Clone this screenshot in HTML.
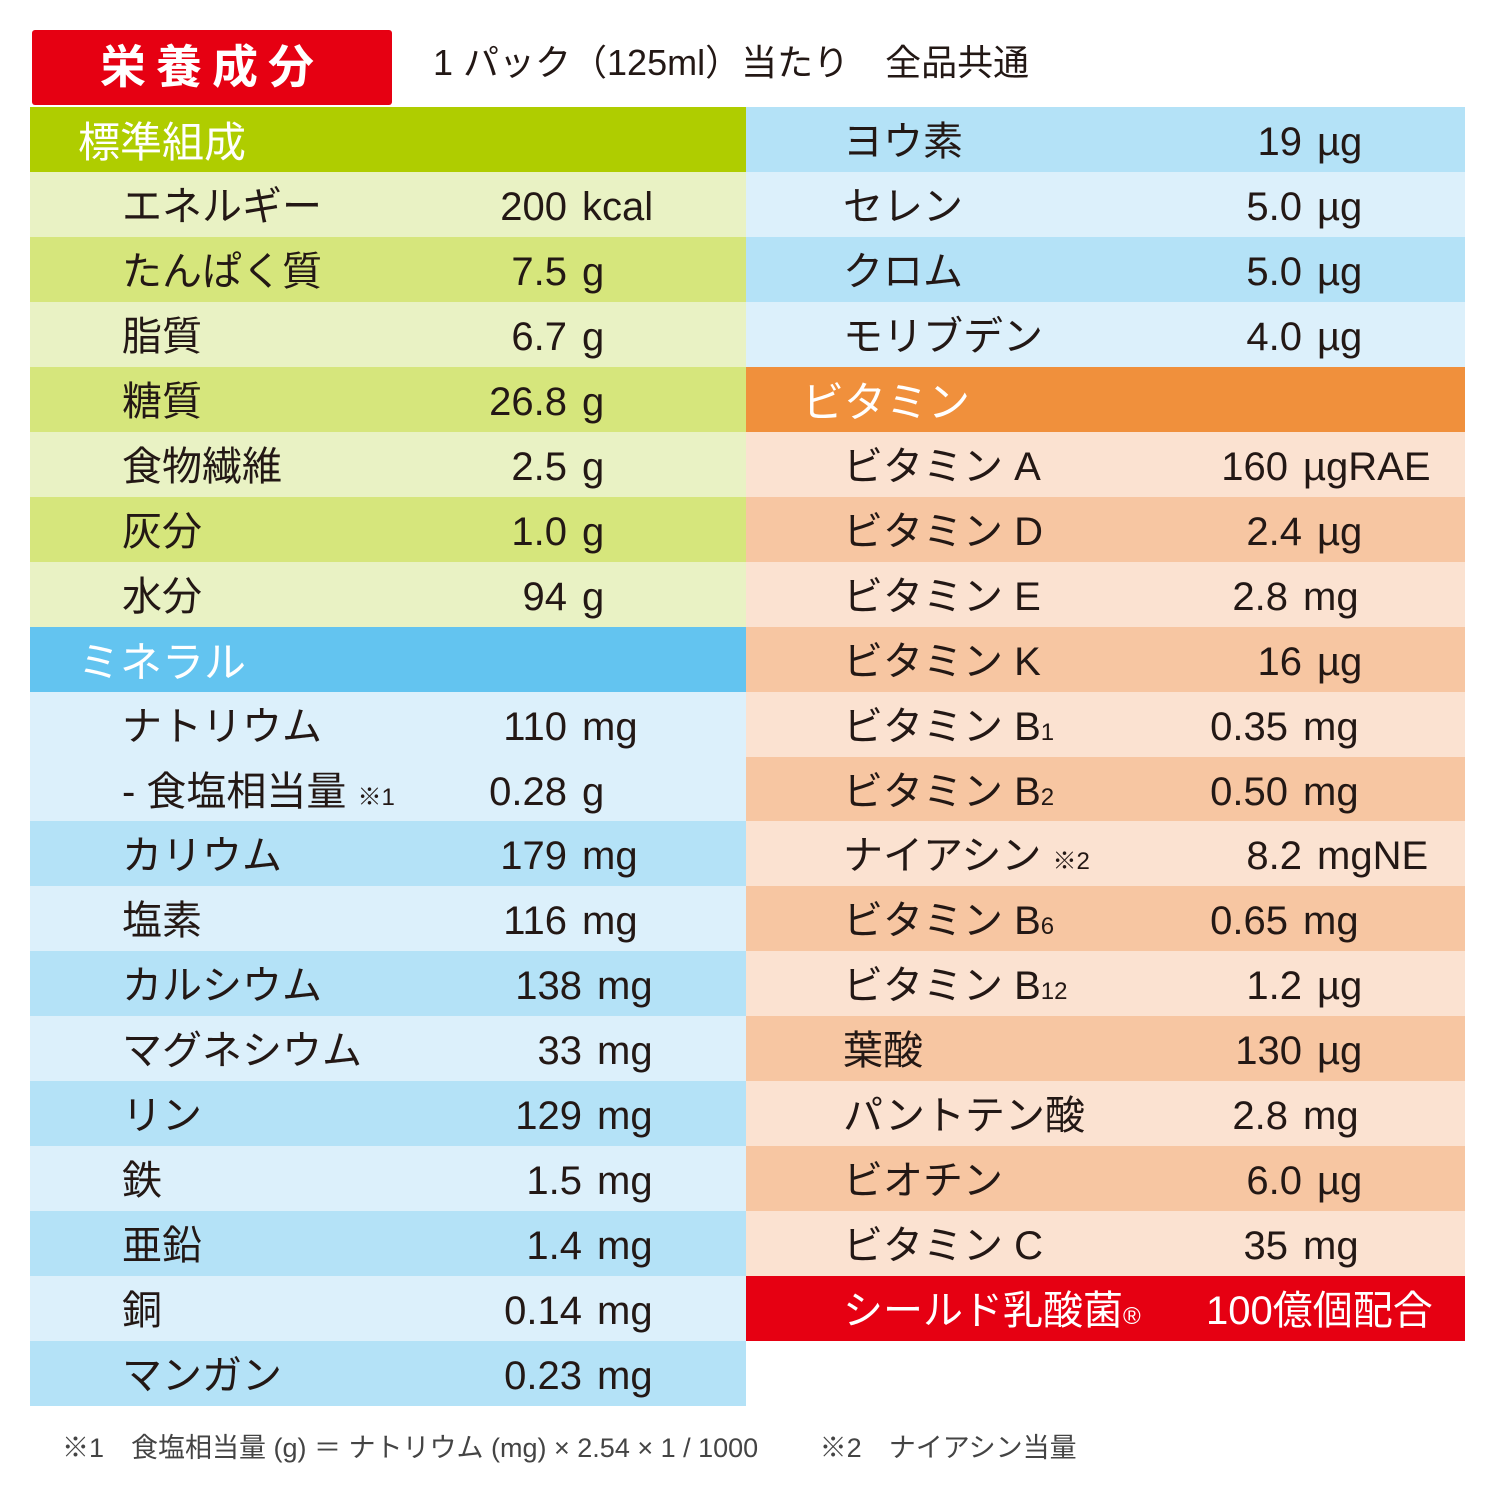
<!DOCTYPE html>
<html><head><meta charset="utf-8">
<style>
body{margin:0;background:#fff;width:1500px;height:1500px;position:relative;overflow:hidden;font-family:"Liberation Sans","Noto Sans CJK JP",sans-serif;color:#231815}
.a{position:absolute;white-space:nowrap}
.row{position:absolute;height:65px}
.t{position:absolute;font-size:40px;line-height:65px;top:3px;white-space:nowrap}
.h{color:#fff;font-size:42px}
small{font-size:24px}
</style></head><body>
<div class="a" style="left:32px;top:30px;width:360px;height:75px;background:#e60012;border-radius:3px;color:#fff;font-weight:bold;font-size:46px;line-height:75px;text-align:center;letter-spacing:10px">栄養成分</div>
<div class="a" style="left:433px;top:38px;font-size:36px;line-height:50px">1 パック（125ml）当たり　全品共通</div>
<div class="a" style="left:62px;top:1428px;font-size:27px;line-height:40px;color:#444">※1　食塩相当量 (g) ＝ ナトリウム (mg) × 2.54 × 1 / 1000　　 ※2　ナイアシン当量</div>
<div id="tbl"></div>
<script>
const leftNames=["標準組成","エネルギー","たんぱく質","脂質","糖質","食物繊維","灰分","水分","ミネラル","ナトリウム","- 食塩相当量 <small>※1</small>","カリウム","塩素","カルシウム","マグネシウム","リン","鉄","亜鉛","銅","マンガン"];
const leftNums=["","200","7.5","6.7","26.8","2.5","1.0","94","","110","0.28","179","116","138","33","129","1.5","1.4","0.14","0.23"];
const leftUnits=["","kcal","g","g","g","g","g","g","","mg","g","mg","mg","mg","mg","mg","mg","mg","mg","mg"];
const leftBg=["#afcd00","#e9f2c4","#d6e67c","#e9f2c4","#d6e67c","#e9f2c4","#d6e67c","#e9f2c4","#63c4f0","#dcf0fb","#dcf0fb","#b4e2f7","#dcf0fb","#b4e2f7","#dcf0fb","#b4e2f7","#dcf0fb","#b4e2f7","#dcf0fb","#b4e2f7"];
const rightNames=["ヨウ素","セレン","クロム","モリブデン","ビタミン","ビタミン A","ビタミン D","ビタミン E","ビタミン K","ビタミン B<small>1</small>","ビタミン B<small>2</small>","ナイアシン <small>※2</small>","ビタミン B<small>6</small>","ビタミン B<small>12</small>","葉酸","パントテン酸","ビオチン","ビタミン C","シールド乳酸菌<small>®</small>"];
const rightNums=["19","5.0","5.0","4.0","","160","2.4","2.8","16","0.35","0.50","8.2","0.65","1.2","130","2.8","6.0","35","100億個配合"];
const rightUnits=["µg","µg","µg","µg","","µgRAE","µg","mg","µg","mg","mg","mgNE","mg","µg","µg","mg","µg","mg",""];
const rightBg=["#b4e2f7","#dcf0fb","#b4e2f7","#dcf0fb","#f0903c","#fbe2d1","#f7c6a2","#fbe2d1","#f7c6a2","#fbe2d1","#f7c6a2","#fbe2d1","#f7c6a2","#fbe2d1","#f7c6a2","#fbe2d1","#f7c6a2","#fbe2d1","#e60012"];
const tbl=document.getElementById('tbl');
function rowY(i){return 107+i*64.95;}
function build(names,nums,units,bg,x0,w,side){
 names.forEach((n,i)=>{
  const r=document.createElement('div');
  
  
  r.className='row';
  r.style.cssText=`left:${x0}px;top:${rowY(i)}px;width:${w}px;background:${bg[i]}`;
  const header=(nums[i]===''&&units[i]==='');
  const lab=document.createElement('div');
  
  
  lab.className='t'+(header?' h':'');
  lab.innerHTML=n;
  const special=side==='right'&&i===names.length-1;
  if(special){lab.style.color='#fff';}
  lab.style.left=((header?78:122)+(side==='right'?(header?722-78+78:722):0)-(side==='right'&&header?0:0))+'px';
  lab.style.left=(side==='left'?(header?48:92):(header?56:97))+'px';
  r.appendChild(lab);
  if(!header){
   let nr,ul;
   if(side==='left'){nr=(i>=13?582:567)-x0;ul=nr+15;}
   else{
     const u=units[i];
     if(u==='mg'||u==='µgRAE'){nr=1288;}else{nr=1302;}
     nr-=x0;ul=nr+15;
   }
   const num=document.createElement('div');
   
   
   num.className='t';
   num.textContent=nums[i];
   if(special){num.style.cssText='left:460px;color:#fff';}
   else num.style.right=(w-nr)+'px';
   r.appendChild(num);
   if(units[i]){
    const un=document.createElement('div');
    
    
    un.className='t';
    un.textContent=units[i];
    un.style.left=ul+'px';
    r.appendChild(un);
   }
  }
  tbl.appendChild(r);
 });
}
build(leftNames,leftNums,leftUnits,leftBg,30,716,'left');
build(rightNames,rightNums,rightUnits,rightBg,746,719,'right');
</script>
</body></html>
